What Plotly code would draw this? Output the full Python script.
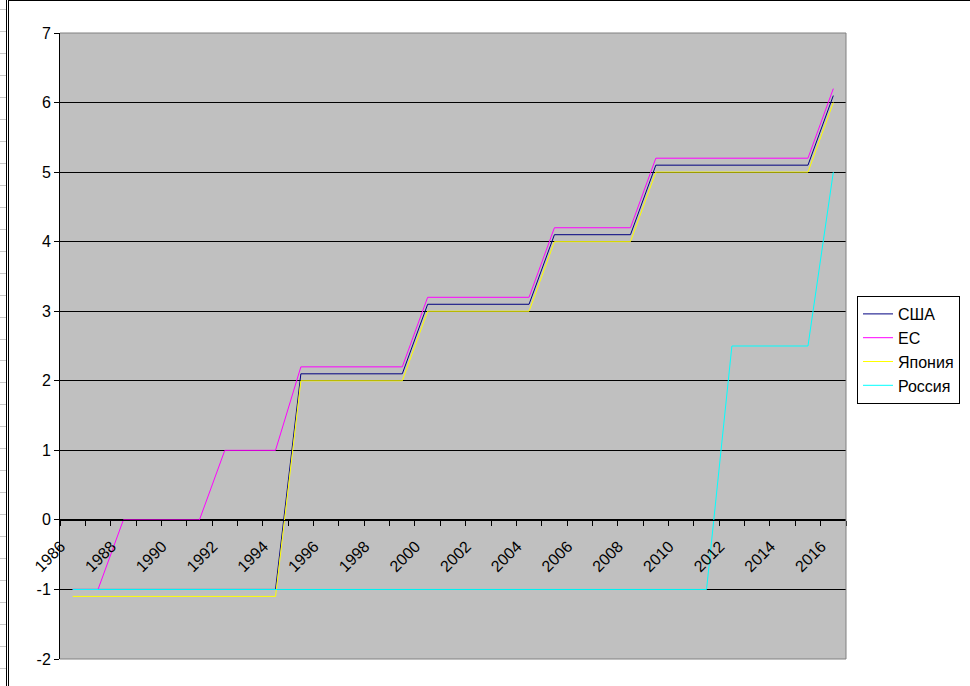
import plotly.graph_objects as go

years = list(range(1986, 2017))

usa = [-1.0]*9 + [2.1]*5 + [3.1]*5 + [4.1]*4 + [5.1]*7 + [6.1]
eu = [-1.0]*2 + [0.0]*4 + [1.0]*3 + [2.2]*5 + [3.2]*5 + [4.2]*4 + [5.2]*7 + [6.2]
japan = [-1.1]*9 + [2.0]*5 + [3.0]*5 + [4.0]*4 + [5.0]*7 + [6.0]
russia = [-1.0]*26 + [2.5]*4 + [5.0]

series_names = ["США", "ЕС", "Япония", "Россия"]
series_values = [usa, eu, japan, russia]
series_colors = ["#000080", "#FF00FF", "#FFFF00", "#00FFFF"]

x_tick_years = list(range(1986, 2017, 2))
x_tick_labels = [str(y) for y in x_tick_years]
y_ticks = list(range(-2, 8))
y_tick_labels = [str(v) for v in y_ticks]

FONT = "Liberation Sans, Arial, sans-serif"

fig = go.Figure()
for name, vals, col in zip(series_names, series_values, series_colors):
    fig.add_trace(go.Scatter(x=years, y=vals, name=name, mode="lines",
                             line=dict(color=col, width=1)))

W, H = 970, 686
L, R, T, B = 60, 124, 33, 27
PW, PH = W - L - R, H - T - B

def px(x):
    return (x - L) / PW

def py(y):
    return (H - B - y) / PH

shapes = []
# plot area border (gray) top, right, bottom
for (x0, y0, x1, y1) in [(0, 1, 1, 1), (1, 0, 1, 1), (0, 0, 1, 0)]:
    shapes.append(dict(type="line", xref="paper", yref="paper", x0=x0, y0=y0, x1=x1, y1=y1,
                       line=dict(color="#808080", width=1), layer="above"))
# chart area border
shapes.append(dict(type="line", xref="paper", yref="paper", x0=px(6.5), x1=px(6.5), y0=py(0), y1=py(H),
                   line=dict(color="black", width=1)))
shapes.append(dict(type="line", xref="paper", yref="paper", x0=px(8.5), x1=px(8.5), y0=py(0), y1=py(H),
                   line=dict(color="black", width=1)))
shapes.append(dict(type="line", xref="paper", yref="paper", x0=px(8), x1=px(W), y0=py(0.5), y1=py(0.5),
                   line=dict(color="black", width=1)))
# spreadsheet cell lines at left edge
k = 0
while 9.3 + 21.95 * k < H:
    yy = round(9.3 + 21.95 * k) + 0.5
    shapes.append(dict(type="line", xref="paper", yref="paper", x0=px(0), x1=px(6), y0=py(yy), y1=py(yy),
                       line=dict(color="#c8c8c8", width=1)))
    k += 1

fig.update_layout(
    width=W, height=H,
    margin=dict(l=L, r=R, t=T, b=B, pad=0, autoexpand=False),
    paper_bgcolor="white",
    plot_bgcolor="#C0C0C0",
    font=dict(family=FONT, size=16, color="black"),
    showlegend=True,
    legend=dict(x=px(857), y=py(296), xanchor="left", yanchor="top",
                bgcolor="white", bordercolor="black", borderwidth=1,
                font=dict(family=FONT, size=16, color="black"),
                tracegroupgap=0),
    xaxis=dict(
        type="linear", range=[1985.5, 2016.5],
        anchor="free", position=2/9,
        showline=True, linecolor="black", linewidth=1,
        showgrid=False, zeroline=False, automargin=False,
        tickmode="array", tickvals=x_tick_years, ticktext=x_tick_labels,
        tickangle=-45, ticks="outside", ticklen=10, tickcolor="rgba(0,0,0,0)",
        ticklabelshift=-12,
        tickfont=dict(family=FONT, size=16, color="black"),
        minor=dict(tickmode="linear", tick0=1985.5, dtick=1, ticks="outside",
                   ticklen=5, tickcolor="black", showgrid=False),
    ),
    yaxis=dict(
        range=[-2, 7], tickmode="array", tickvals=y_ticks, ticktext=y_tick_labels,
        showline=True, linecolor="black", linewidth=1,
        showgrid=True, gridcolor="black", gridwidth=1, zeroline=False, automargin=False,
        ticks="outside", ticklen=5, tickcolor="black",
        tickfont=dict(family=FONT, size=16, color="black"),
    ),
    shapes=shapes,
)

fig.write_html("out.html", config={"displayModeBar": False},
               post_script="document.body.style.margin='0';document.body.style.overflow='hidden';")
